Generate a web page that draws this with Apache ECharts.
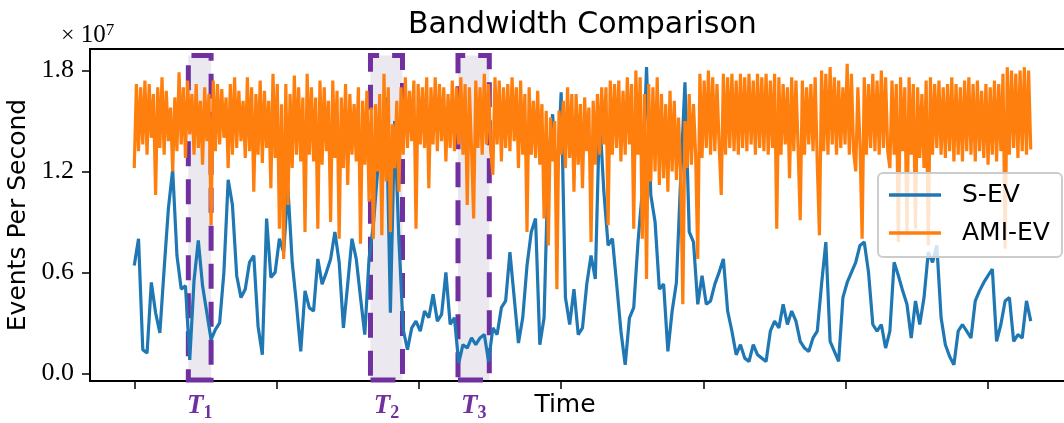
<!DOCTYPE html>
<html>
<head>
<meta charset="utf-8">
<script src="https://cdn.jsdelivr.net/npm/echarts@6/dist/echarts.min.js"></script>
<style>
  html, body { margin: 0; padding: 0; background: #fff; }
  #main { width: 1064px; height: 423px; }
</style>
</head>
<body>
<div id="main"></div>
<script>
// values are in units of 1e7 events per second
const sEvStep = 6     // S-EV: one sample every 6 time steps
const amiEvStep = 3   // AMI-EV: one sample every 3 time steps
const timeTicks = [0, 200, 400, 600, 800, 1000, 1200]
const yTicks = [0, 0.6, 1.2, 1.8]

const sEv = [
  0.64, 0.80, 0.14, 0.12, 0.54, 0.36, 0.24, 0.62, 0.98, 1.21,
  0.70, 0.50, 0.52, 0.08, 0.55, 0.79, 0.52, 0.36, 0.20, 0.26,
  0.30, 0.60, 1.15, 1.00, 0.58, 0.45, 0.50, 0.66, 0.70, 0.28,
  0.11, 0.92, 0.57, 0.60, 0.80, 0.72, 1.10, 0.66, 0.41, 0.13,
  0.49, 0.39, 0.37, 0.68, 0.53, 0.60, 0.68, 0.84, 0.66, 0.27,
  0.53, 0.80, 0.68, 0.45, 0.23, 0.68, 0.88, 1.20, 1.40, 1.64,
  0.36, 1.50, 0.79, 0.26, 0.14, 0.27, 0.31, 0.25, 0.37, 0.33,
  0.47, 0.31, 0.35, 0.60, 0.29, 0.33, 0.06, 0.17, 0.15, 0.21,
  0.17, 0.21, 0.23, 0.07, 0.27, 0.23, 0.39, 0.43, 0.72, 0.45,
  0.18, 0.33, 0.64, 0.84, 0.92, 0.17, 0.33, 1.28, 1.54, 1.12,
  1.67, 0.45, 0.29, 0.50, 0.23, 0.27, 0.53, 0.70, 0.56, 1.54,
  1.08, 0.76, 0.80, 0.53, 0.25, 0.05, 0.33, 0.39, 0.78, 1.08,
  1.82, 1.06, 0.90, 0.50, 0.53, 0.13, 0.37, 0.54, 1.16, 1.73,
  0.84, 0.78, 0.41, 0.58, 0.41, 0.43, 0.53, 0.60, 0.68, 0.37,
  0.25, 0.11, 0.17, 0.09, 0.07, 0.17, 0.11, 0.09, 0.07, 0.25,
  0.31, 0.27, 0.41, 0.29, 0.37, 0.31, 0.19, 0.15, 0.13, 0.21,
  0.25, 0.53, 0.78, 0.19, 0.13, 0.07, 0.45, 0.54, 0.60, 0.66,
  0.76, 0.78, 0.60, 0.29, 0.25, 0.29, 0.15, 0.25, 0.66, 0.58,
  0.49, 0.41, 0.21, 0.43, 0.29, 0.45, 0.72, 0.66, 0.76, 0.33,
  0.17, 0.10, 0.05, 0.25, 0.29, 0.25, 0.21, 0.43, 0.49, 0.54,
  0.58, 0.62, 0.19, 0.29, 0.43, 0.45, 0.19, 0.23, 0.21, 0.43,
  0.31
]

const amiEv = [
  1.22, 1.72, 1.32, 1.70, 1.36, 1.74, 1.30, 1.72, 1.40, 1.66, 1.06, 1.70, 1.34, 1.76, 1.30, 1.68, 1.38, 1.58, 1.20, 1.64,
  1.32, 1.79, 1.36, 1.70, 1.28, 1.74, 1.42, 1.66, 1.30, 1.72, 1.34, 1.62, 1.24, 1.70, 1.38, 1.66, 0.88, 1.74, 1.32, 1.72,
  1.36, 1.69, 1.40, 1.64, 1.22, 1.72, 1.30, 1.76, 1.34, 1.68, 1.38, 1.62, 1.28, 1.76, 1.32, 1.70, 1.08, 1.66, 1.30, 1.74,
  1.25, 1.68, 1.34, 1.62, 1.10, 1.78, 1.28, 1.72, 0.86, 1.60, 0.68, 1.72, 1.00, 1.66, 1.22, 1.77, 1.30, 1.70, 1.26, 1.64,
  0.84, 1.78, 1.30, 1.70, 1.26, 1.64, 0.86, 1.74, 1.24, 1.70, 1.32, 1.62, 0.90, 1.74, 1.28, 1.68, 0.80, 1.64, 1.22, 1.72,
  1.12, 1.66, 1.30, 1.60, 1.26, 1.70, 0.77, 1.62, 1.24, 1.68, 1.02, 1.58, 0.80, 1.60, 1.20, 1.66, 0.82, 1.78, 1.14, 1.70,
  0.84, 1.48, 1.22, 1.62, 1.08, 1.70, 1.30, 1.76, 1.34, 1.68, 1.38, 1.74, 0.86, 1.72, 1.36, 1.70, 1.34, 1.76, 1.10, 1.70,
  1.36, 1.76, 1.32, 1.72, 1.38, 1.70, 1.26, 1.66, 1.34, 1.74, 1.32, 1.70, 1.36, 1.76, 1.30, 1.72, 1.00, 1.70, 1.34, 0.92,
  1.74, 1.34, 1.70, 1.30, 1.78, 1.36, 1.72, 1.32, 1.18, 1.76, 1.36, 1.74, 1.26, 1.70, 1.34, 1.72, 1.32, 1.76, 1.38, 1.70,
  1.22, 1.74, 1.30, 1.66, 0.84, 1.70, 1.30, 1.62, 1.28, 1.68, 1.24, 1.60, 0.92, 1.56, 0.76, 1.52, 1.26, 1.50, 0.50, 1.56,
  1.30, 1.62, 1.22, 1.70, 1.28, 1.66, 1.08, 1.66, 1.24, 1.60, 1.10, 1.64, 1.32, 1.58, 0.78, 1.62, 1.24, 1.66, 1.30, 1.70,
  1.36, 1.70, 0.88, 1.74, 1.30, 1.72, 1.34, 1.74, 1.26, 1.68, 1.30, 1.76, 1.36, 1.72, 0.86, 1.80, 1.30, 1.76, 0.80, 1.66,
  0.56, 1.72, 1.14, 1.70, 1.20, 1.76, 1.12, 1.66, 1.16, 1.60, 1.08, 1.68, 1.20, 1.62, 1.15, 1.52, 1.18, 0.41, 1.50, 1.22,
  1.66, 1.24, 1.60, 1.30, 0.68, 1.78, 1.28, 1.74, 1.34, 1.80, 1.30, 1.76, 1.32, 1.72, 1.36, 1.06, 1.78, 1.30, 1.76, 1.34,
  1.78, 1.32, 1.74, 1.30, 1.78, 1.34, 1.76, 1.32, 1.78, 1.36, 1.74, 1.30, 1.78, 1.34, 1.76, 1.32, 1.78, 1.30, 1.74, 1.34,
  1.78, 0.86, 1.76, 1.30, 1.72, 1.36, 1.70, 1.16, 1.76, 1.32, 1.74, 1.34, 0.91, 1.74, 1.30, 1.70, 1.36, 1.72, 1.32, 1.76,
  1.24, 0.82, 1.80, 1.32, 1.78, 1.30, 1.82, 1.36, 1.76, 1.30, 1.74, 1.34, 1.70, 1.36, 1.84, 1.30, 1.78, 1.32, 1.20, 1.70,
  1.36, 0.80, 1.76, 1.30, 1.72, 1.34, 1.78, 1.32, 1.74, 1.30, 1.80, 1.34, 1.76, 1.32, 1.22, 1.74, 1.30, 1.72, 0.78, 1.76,
  1.32, 1.70, 0.82, 1.76, 1.30, 1.72, 0.86, 1.70, 1.28, 1.66, 1.22, 1.74, 0.76, 1.76, 1.30, 1.72, 1.34, 1.74, 1.30, 1.70,
  1.28, 1.72, 1.32, 1.76, 1.26, 1.72, 1.30, 1.70, 1.26, 1.74, 1.32, 1.76, 1.30, 1.72, 1.26, 1.74, 1.32, 1.68, 1.28, 1.72,
  1.24, 1.70, 1.30, 1.74, 1.26, 1.72, 1.32, 1.78, 0.74, 1.82, 1.30, 1.80, 1.34, 1.78, 1.28, 1.80, 1.32, 1.82, 1.30, 1.80,
  1.33
]

// highlighted windows: label, start time, end time
const windowNames = ['T1', 'T2', 'T3']
const windowStart = [76, 332, 455]
const windowEnd = [108, 377, 499]
const windowLow = -0.04
const windowHigh = 1.89

const purple = '#7030a0'

function toPoints(values, step) {
  return values.map((v, i) => [i * step, v])
}

const chart = echarts.init(document.getElementById('main'))

const option = {
  animation: false,
  title: [
    {
      text: 'Bandwidth Comparison',
      left: 403,
      top: 5,
      textStyle: { fontFamily: 'DejaVu Sans', fontSize: 30, fontWeight: 'normal', color: '#000' },
    },
    {
      text: '{a|×}{b| 10}{c|7}',
      left: 56,
      top: 17,
      textStyle: {
        fontWeight: 'normal',
        rich: {
          a: { fontFamily: 'Liberation Serif', fontSize: 24, fontWeight: 'normal', color: '#000', lineHeight: 26, verticalAlign: 'bottom' },
          b: { fontFamily: 'Liberation Serif', fontSize: 25, fontWeight: 'normal', color: '#000', lineHeight: 26, verticalAlign: 'bottom' },
          c: { fontFamily: 'Liberation Serif', fontSize: 17, fontWeight: 'normal', color: '#000', lineHeight: 26, verticalAlign: 'top' },
        },
      },
    },
  ],
  legend: {
    data: ['S-EV', 'AMI-EV'],
    orient: 'vertical',
    left: 878,
    top: 173,
    icon: 'rect',
    itemWidth: 52,
    itemHeight: 3.5,
    itemGap: 10,
    padding: [8, 12, 10, 11],
    backgroundColor: 'rgba(255,255,255,0.8)',
    borderColor: '#cccccc',
    borderWidth: 2,
    borderRadius: 5,
    textStyle: {
      fontFamily: 'DejaVu Sans',
      fontSize: 25,
      color: '#000',
      lineHeight: 28,
      padding: [0, 0, 0, 16],
    },
  },
  grid: {
    left: 90,
    top: 49,
    right: -12,
    bottom: 42,
    outerBoundsMode: 'none',
    show: true,
    borderColor: '#000',
    borderWidth: 2,
  },
  xAxis: {
    type: 'value',
    min: -62.2,
    max: 1323.6,
    name: 'Time',
    nameLocation: 'middle',
    nameGap: 12,
    nameTextStyle: { fontFamily: 'DejaVu Sans', fontSize: 25, color: '#000', padding: [0, 36, 0, 0] },
    axisLine: { show: false, onZero: false },
    axisTick: { show: true, customValues: timeTicks, length: 8, lineStyle: { color: '#000', width: 1.5 } },
    axisLabel: { show: false },
    splitLine: { show: false },
  },
  yAxis: {
    type: 'value',
    min: -0.046,
    max: 1.928,
    name: 'Events Per Second',
    nameLocation: 'middle',
    nameGap: 48,
    nameTextStyle: { fontFamily: 'DejaVu Sans', fontSize: 25, color: '#000' },
    axisLine: { show: false, onZero: false },
    axisTick: { show: true, customValues: yTicks, length: 8, lineStyle: { color: '#000', width: 1.5 } },
    axisLabel: {
      customValues: yTicks,
      formatter: (v) => v.toFixed(1),
      fontFamily: 'Liberation Serif',
      fontSize: 26,
      color: '#000',
      margin: 16,
    },
    splitLine: { show: false },
  },
  series: [
    {
      name: 'S-EV',
      type: 'line',
      data: toPoints(sEv, sEvStep),
      symbol: 'none',
      lineStyle: { color: '#1f77b4', width: 3.2 },
      itemStyle: { color: '#1f77b4' },
    },
    {
      name: 'AMI-EV',
      type: 'line',
      data: toPoints(amiEv, amiEvStep),
      symbol: 'none',
      lineStyle: { color: '#ff7f0e', width: 3.2 },
      itemStyle: { color: '#ff7f0e' },
    },
    {
      name: 'windows',
      type: 'line',
      data: [],
      z: 5,
      markArea: {
        silent: true,
        itemStyle: {
          color: 'rgba(179,163,195,0.25)',
          borderColor: purple,
          borderWidth: 5,
          borderType: [25, 13],
        },
        label: {
          show: true,
          position: 'bottom',
          distance: 10,
          formatter: (p) => '{t|T}{s|' + p.name.slice(1) + '}',
          rich: {
            t: { fontFamily: 'Liberation Serif', fontStyle: 'italic', fontWeight: 'bold', fontSize: 27, color: purple, lineHeight: 30, verticalAlign: 'top' },
            s: { fontFamily: 'Liberation Serif', fontWeight: 'bold', fontSize: 18, color: purple, lineHeight: 30, verticalAlign: 'bottom' },
          },
        },
        data: windowNames.map((n, k) => [
          { name: n, xAxis: windowStart[k], yAxis: windowLow },
          { xAxis: windowEnd[k], yAxis: windowHigh },
        ]),
      },
    },
  ],
}

chart.setOption(option)
</script>
</body>
</html>
